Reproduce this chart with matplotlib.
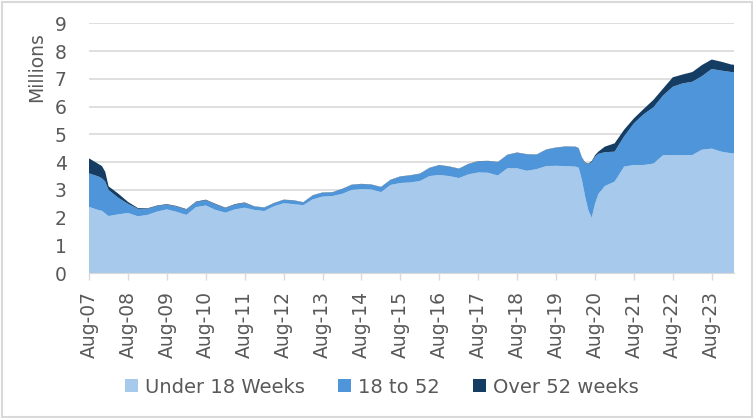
import numpy as np
import pandas as pd
import matplotlib
matplotlib.use("Agg")
import matplotlib.pyplot as plt
import matplotlib.dates as mdates
from matplotlib.patches import Rectangle

# ─── Data (millions) ──────────────────────────────────────────────────────────
months = [
    "2007-08", "2007-11", "2007-12", "2008-01", "2008-02", "2008-05", "2008-08", "2008-11",
    "2009-02", "2009-05", "2009-08", "2009-11", "2010-02", "2010-05", "2010-08", "2010-11",
    "2011-02", "2011-05", "2011-08", "2011-11", "2012-02", "2012-05", "2012-08", "2012-11",
    "2013-02", "2013-05", "2013-08", "2013-11", "2014-02", "2014-05", "2014-08", "2014-11",
    "2015-02", "2015-05", "2015-08", "2015-11", "2016-02", "2016-05", "2016-08", "2016-11",
    "2017-02", "2017-05", "2017-08", "2017-11", "2018-02", "2018-05", "2018-08", "2018-11",
    "2019-02", "2019-05", "2019-08", "2019-11", "2020-02", "2020-03", "2020-04", "2020-05",
    "2020-06", "2020-07", "2020-08", "2020-09", "2020-11", "2021-02", "2021-05", "2021-08",
    "2021-11", "2022-02", "2022-05", "2022-08", "2022-11", "2023-02", "2023-05", "2023-08",
    "2023-11", "2024-02", "2024-03",
]

under_18 = [
    2.39, 2.27, 2.25, 2.15, 2.06, 2.12, 2.17, 2.05,
    2.10, 2.22, 2.30, 2.21, 2.10, 2.38, 2.44, 2.28,
    2.18, 2.30, 2.36, 2.28, 2.24, 2.41, 2.52, 2.49,
    2.45, 2.66, 2.76, 2.78, 2.86, 3.00, 3.03, 3.02,
    2.92, 3.18, 3.25, 3.27, 3.32, 3.50, 3.54, 3.50,
    3.43, 3.56, 3.63, 3.62, 3.52, 3.78, 3.78, 3.69,
    3.75, 3.86, 3.87, 3.86, 3.84, 3.80, 3.35, 2.75,
    2.25, 2.00, 2.50, 2.85, 3.14, 3.30, 3.84, 3.90,
    3.90, 3.95, 4.25, 4.26, 4.25, 4.26, 4.45, 4.49,
    4.38, 4.32, 4.32,
]

wk_18_52 = [
    1.21, 1.21, 1.17, 1.15, 0.94, 0.60, 0.33, 0.27,
    0.22, 0.20, 0.17, 0.19, 0.19, 0.18, 0.19, 0.20,
    0.16, 0.17, 0.17, 0.12, 0.12, 0.11, 0.12, 0.13,
    0.10, 0.14, 0.14, 0.13, 0.17, 0.18, 0.18, 0.17,
    0.18, 0.18, 0.23, 0.25, 0.26, 0.29, 0.35, 0.34,
    0.33, 0.37, 0.40, 0.42, 0.48, 0.48, 0.56, 0.59,
    0.52, 0.59, 0.65, 0.70, 0.71, 0.70, 0.80, 1.22,
    1.68, 2.00, 1.70, 1.45, 1.22, 1.08, 1.09, 1.50,
    1.83, 2.03, 2.15, 2.46, 2.59, 2.64, 2.65, 2.87,
    2.92, 2.93, 2.93,
]

over_52 = [
    0.54, 0.45, 0.44, 0.35, 0.13, 0.15, 0.07, 0.03,
    0.02, 0.02, 0.02, 0.02, 0.02, 0.02, 0.02, 0.02,
    0.02, 0.02, 0.02, 0.01, 0.01, 0.01, 0.01, 0.01,
    0.01, 0.01, 0.01, 0.01, 0.01, 0.01, 0.01, 0.01,
    0.01, 0.01, 0.01, 0.01, 0.01, 0.01, 0.01, 0.01,
    0.01, 0.01, 0.01, 0.01, 0.01, 0.01, 0.01, 0.01,
    0.01, 0.01, 0.01, 0.01, 0.01, 0.01, 0.02, 0.02,
    0.02, 0.04, 0.05, 0.08, 0.20, 0.30, 0.24, 0.18,
    0.19, 0.27, 0.25, 0.34, 0.32, 0.35, 0.40, 0.34,
    0.32, 0.27, 0.26,
]

labels = ["Under 18 Weeks", "18 to 52", "Over 52 weeks"]
colors = ["#A6C9EC", "#4E95D9", "#153D64"]
TEXT = "#595959"
GRID = "#D9D9D9"

dates = pd.to_datetime(months)

# ─── Figure ───────────────────────────────────────────────────────────────────
plt.rcParams["font.family"] = ["DejaVu Sans"]
fig = plt.figure(figsize=(7.54, 4.19), dpi=100)
ax = fig.add_axes([0.118, 0.348, 0.856, 0.596])

ax.stackplot(dates, under_18, wk_18_52, over_52, colors=colors,
             labels=labels, linewidth=0, zorder=2)

ax.set_xlim(pd.Timestamp("2007-08-01"), pd.Timestamp("2024-03-01"))
ax.set_ylim(0, 9)
ax.set_yticks(range(0, 10))
ax.yaxis.grid(True, color=GRID, linewidth=1.2, zorder=0)
ax.set_axisbelow(True)

ax.xaxis.set_major_locator(mdates.MonthLocator(bymonth=8))
ax.xaxis.set_major_formatter(mdates.DateFormatter("%b-%y"))
plt.setp(ax.get_xticklabels(), rotation=90, ha="center", va="top")

ax.tick_params(axis="y", length=0, pad=16, labelsize=13.5, labelcolor=TEXT)
ax.tick_params(axis="x", length=5, width=1, color=GRID, pad=8,
               labelsize=13.5, labelcolor=TEXT)

for side in ["top", "right", "left"]:
    ax.spines[side].set_visible(False)
ax.spines["bottom"].set_color(GRID)

fig.text(36.7 / 754, 1 - 67.5 / 419, "Millions", rotation=90,
         ha="center", va="center", fontsize=13.5, color=TEXT)

handles = [Rectangle((0, 0), 1, 1, facecolor=c, edgecolor="none") for c in colors]
fig.legend(handles, labels, loc="center", bbox_to_anchor=(0.506, 1 - 387 / 419),
           ncol=3, frameon=False, fontsize=14, labelcolor=TEXT,
           handlelength=0.67, handleheight=0.67, handletextpad=0.36,
           columnspacing=1.7)

# outer chart border
fig.patches.append(Rectangle((0.002, 0.004), 0.995, 0.992, transform=fig.transFigure,
                             fill=False, edgecolor=GRID, linewidth=1.5))

fig.savefig("out.png", dpi=100)
